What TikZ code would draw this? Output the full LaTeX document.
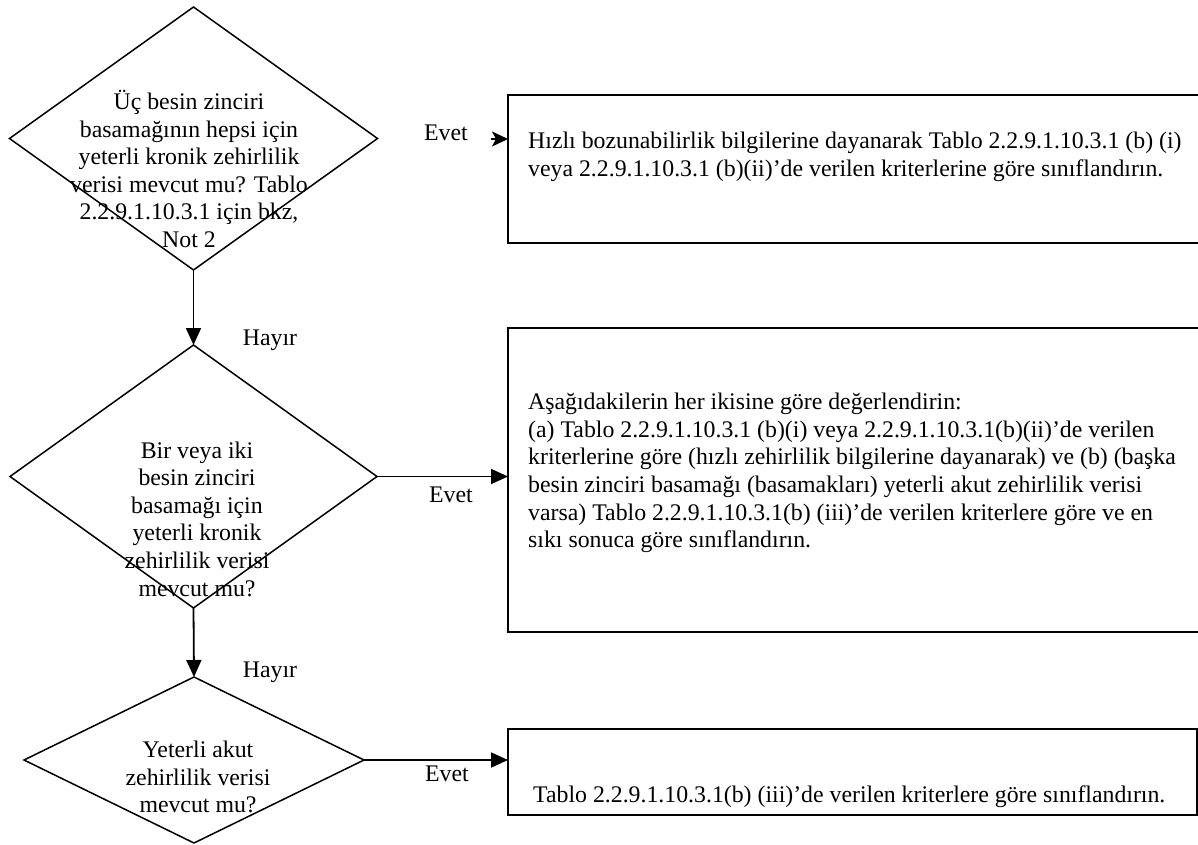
\documentclass[tikz,border=0pt]{standalone}
\usepackage{fontspec}
\setmainfont{Liberation Serif}
\usetikzlibrary{shapes.geometric,arrows.meta,calc}
\begin{document}
\begin{tikzpicture}[x=1pt,y=-1pt,
  dia/.style={draw, diamond, line width=1.5pt, inner sep=0pt, outer sep=0pt},
  box/.style={draw, rectangle, line width=2pt, inner sep=0pt, outer sep=0pt},
  txt/.style={font=\fontsize{23.8}{27.6}\selectfont, inner sep=0pt},
  lbl/.style={font=\fontsize{23.8}{27.6}\selectfont, inner sep=0pt},
  arr/.style={-{Triangle[length=17pt,width=15pt]}, line width=1.8pt},
  arrn/.style={-{Stealth[length=16pt,width=15pt,inset=4pt]}, line width=1.8pt}
]
\useasboundingbox (0,0) rectangle (1198,845);
\clip (0,0) rectangle (1198,845);
\fill[white] (0,0) rectangle (1198,845);

% diamonds
\node[dia, minimum width=368pt, minimum height=263pt] (d1) at (193.5,138.5) {};
\node[dia, minimum width=367pt, minimum height=263pt] (d2) at (193.5,476.5) {};
\node[dia, minimum width=340pt, minimum height=166pt] (d3) at (194,760) {};

\node[txt, align=center] (t1) at (189,169) {Üç besin zinciri\\basamağının hepsi için\\yeterli kronik zehirlilik\\verisi mevcut mu? Tablo\\2.2.9.1.10.3.1 için bkz,\\Not 2};
\node[txt, align=center] (t2) at (197,519) {Bir veya iki\\besin zinciri\\basamağı için\\yeterli kronik\\zehirlilik verisi\\mevcut mu?};
\node[txt, align=center] (t3) at (198,777) {Yeterli akut\\zehirlilik verisi\\mevcut mu?};

% boxes
\node[box, minimum width=707pt, minimum height=148pt] (b1) at (861.5,169) {};
\node[box, minimum width=707pt, minimum height=304pt] (b2) at (861.5,480) {};
\node[box, minimum width=689pt, minimum height=86pt] (b3) at (852.5,772) {};

\node[txt, align=left, anchor=west] (bt1) at (528,157) {Hızlı bozunabilirlik bilgilerine dayanarak Tablo 2.2.9.1.10.3.1 (b) (i)\\veya 2.2.9.1.10.3.1 (b)(ii)’de verilen kriterlerine göre sınıflandırın.};
\node[txt, align=left, anchor=west] (bt2) at (528,473) {Aşağıdakilerin her ikisine göre değerlendirin:\\(a) Tablo 2.2.9.1.10.3.1 (b)(i) veya 2.2.9.1.10.3.1(b)(ii)’de verilen\\kriterlerine göre (hızlı zehirlilik bilgilerine dayanarak) ve (b) (başka\\besin zinciri basamağı (basamakları) yeterli akut zehirlilik verisi\\varsa) Tablo 2.2.9.1.10.3.1(b) (iii)’de verilen kriterlere göre ve en\\sıkı sonuca göre sınıflandırın.};
\node[txt, anchor=west] (bt3) at (533,797) {Tablo 2.2.9.1.10.3.1(b) (iii)’de verilen kriterlere göre sınıflandırın.};

% connectors
\coordinate (e1) at (491,139);
\draw[arrn] (e1) -- (e1 -| b1.west);
\draw[arr] (d1.south) -- (d2.north);
\draw[arr] (d2.south) -- (d3.north);
\draw[arr] (d2.east) -- (d2.east -| b2.west);
\draw[arr] (d3.east) -- (d3.east -| b3.west);

% labels
\node[lbl] (l1) at (446,133) {Evet};
\node[lbl] (l2) at (451,495) {Evet};
\node[lbl] (l3) at (447,774) {Evet};
\node[lbl] (h1) at (270,340) {Hayır};
\node[lbl] (h2) at (270,672) {Hayır};
\end{tikzpicture}
\end{document}
